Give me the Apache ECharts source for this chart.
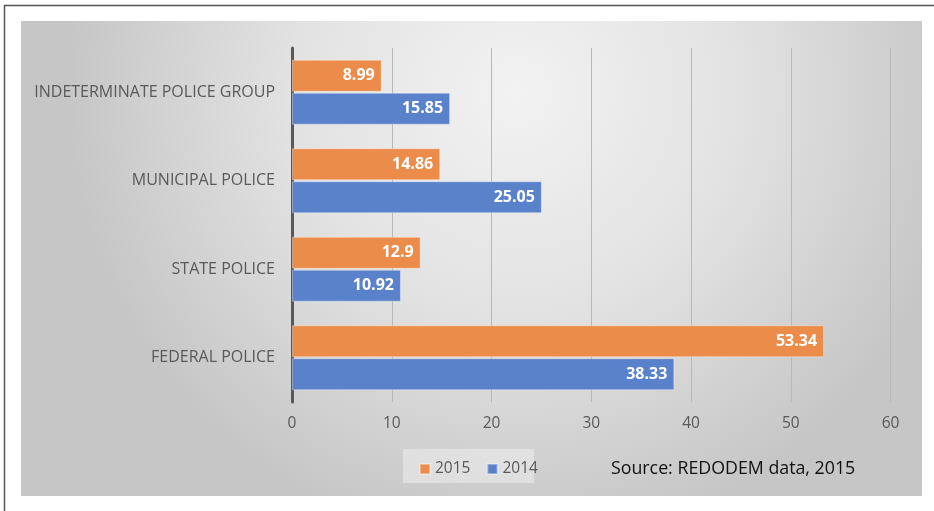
<!DOCTYPE html>
<html>
<head>
<meta charset="utf-8">
<script src="https://cdn.jsdelivr.net/npm/echarts@6/dist/echarts.min.js"></script>
<style>
  html, body { margin: 0; padding: 0; background: #fff; }
  #main { width: 934px; height: 511px; }
</style>
</head>
<body>
<div id="main"></div>
<script>
// categories bottom -> top (echarts puts the first one at the bottom)
var categories = ['FEDERAL POLICE', 'STATE POLICE', 'MUNICIPAL POLICE', 'INDETERMINATE POLICE GROUP'];
var values2015 = [53.34, 12.9, 14.86, 8.99];
var values2014 = [38.33, 10.92, 25.05, 15.85];
var xTicks = [0, 10, 20, 30, 40, 50, 60];

var chart = echarts.init(document.getElementById('main'));

var labelStyle = {
    show: true,
    position: 'insideRight',
    distance: 7,
    color: '#fff',
    fontWeight: 'bold',
    fontSize: 16,
    fontFamily: 'Open Sans'
};

var option = {
    backgroundColor: '#fff',
    animation: false,
    graphic: [
        {
            type: 'rect', z: -10,
            shape: { x: 21, y: 21, width: 901, height: 475 },
            style: {
                fill: {
                    type: 'radial', x: 0.55, y: 0.15, r: 0.95,
                    colorStops: [
                        { offset: 0, color: '#f2f2f2' },
                        { offset: 0.5, color: '#e2e2e2' },
                        { offset: 1, color: '#c6c6c6' }
                    ]
                }
            }
        },
        {
            type: 'line', z: 10,
            shape: { x1: 4, y1: 5.5, x2: 934, y2: 5.5 },
            style: { stroke: '#555', lineWidth: 1.5 }
        },
        {
            type: 'line', z: 10,
            shape: { x1: 4.5, y1: 5, x2: 4.5, y2: 511 },
            style: { stroke: '#555', lineWidth: 1.5 }
        },
        {
            type: 'rect', z: 1,
            shape: { x: 403, y: 449, width: 131, height: 34 },
            style: { fill: 'rgba(235,235,235,0.6)' }
        },
        {
            type: 'text', z: 10,
            x: 611, y: 469,
            style: {
                text: 'Source: REDODEM data, 2015',
                fill: '#111',
                fontSize: 17.8,
                fontFamily: 'Open Sans',
                verticalAlign: 'middle'
            }
        }
    ],
    legend: {
        data: ['2015', '2014'],
        left: 414,
        top: 456,
        itemWidth: 10,
        itemHeight: 10,
        itemGap: 16,
        icon: 'rect',
        textStyle: { color: '#595959', fontSize: 15.5, fontFamily: 'Open Sans' }
    },
    grid: { left: 292, right: 43.5, top: 48, bottom: 109, containLabel: false },
    xAxis: {
        type: 'value',
        min: 0,
        max: 60,
        interval: 10,
        axisLine: { show: false },
        axisTick: { show: false },
        splitLine: { show: true, lineStyle: { color: '#b8b8b8', width: 1 } },
        axisLabel: {
            color: '#595959', fontSize: 15.5, fontFamily: 'Open Sans', margin: 14,
            formatter: function (v) { return xTicks.indexOf(v) >= 0 ? String(v) : ''; }
        }
    },
    yAxis: {
        type: 'category',
        data: categories,
        axisLine: { show: true, lineStyle: { color: '#595959', width: 3 } },
        axisTick: { show: false },
        axisLabel: { color: '#595959', fontSize: 16, fontFamily: 'Open Sans', margin: 17 }
    },
    series: [
        {
            name: '2015',
            type: 'bar',
            data: values2015,
            barWidth: 32,
            barGap: '3%',
            itemStyle: { color: '#ec8c4b', borderColor: 'rgba(255,255,255,0.35)', borderWidth: 1 },
            label: labelStyle
        },
        {
            name: '2014',
            type: 'bar',
            data: values2014,
            barWidth: 32,
            barGap: '3%',
            itemStyle: { color: '#5a82cb', borderColor: 'rgba(255,255,255,0.35)', borderWidth: 1 },
            label: labelStyle
        }
    ]
};

chart.setOption(option);
</script>
</body>
</html>
